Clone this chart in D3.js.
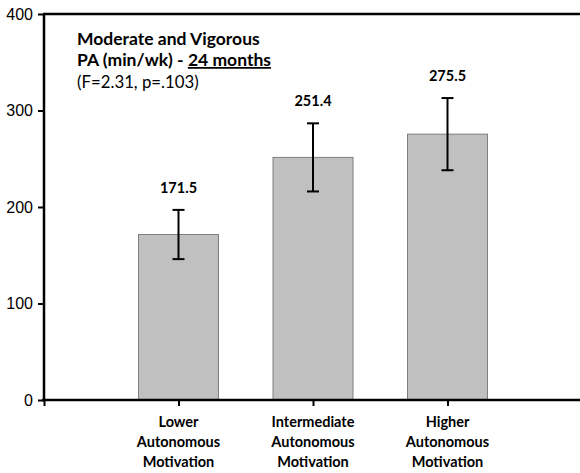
<!DOCTYPE html>
<html><head><meta charset="utf-8">
<script src="https://cdn.jsdelivr.net/npm/d3@7"></script>
<style>body{margin:0;background:#fff}svg{display:block}</style>
</head><body>
<svg id="c" width="580" height="473"></svg>
<script>
const categories = [["Lower","Autonomous","Motivation"],["Intermediate","Autonomous","Motivation"],["Higher","Autonomous","Motivation"]];
const values = [171.5, 251.4, 275.5];
const errors = [25.5, 35.3, 37.4];
const yTicks = [0, 100, 200, 300, 400];
const titleLines = ["Moderate and Vigorous", "PA (min/wk) - ", "24 months", "(F=2.31, p=.103)"];

const svg = d3.select("#c");
const x = d3.scaleLinear().domain([0, 4]).range([44, 582]);
const y = d3.scaleLinear().domain([0, 400]).range([400, 14]);
const barW = 80;
const font = "Lato, 'Open Sans', sans-serif";

// bars
svg.selectAll("rect.bar").data(values).enter().append("rect")
  .attr("x", (d,i) => x(i+1) - barW/2).attr("width", barW)
  .attr("y", d => y(d)).attr("height", d => y(0) - y(d))
  .attr("fill", "#c0c0c0").attr("stroke", "#7f7f7f").attr("stroke-width", 1);

// error bars
const eg = svg.selectAll("g.err").data(values).enter().append("g").attr("stroke","#000").attr("stroke-width",2);
eg.append("line").attr("x1",(d,i)=>x(i+1)).attr("x2",(d,i)=>x(i+1))
  .attr("y1",(d,i)=>y(d+errors[i])).attr("y2",(d,i)=>y(d-errors[i]));
eg.append("line").attr("x1",(d,i)=>x(i+1)-6).attr("x2",(d,i)=>x(i+1)+6)
  .attr("y1",(d,i)=>y(d+errors[i])).attr("y2",(d,i)=>y(d+errors[i]));
eg.append("line").attr("x1",(d,i)=>x(i+1)-6).attr("x2",(d,i)=>x(i+1)+6)
  .attr("y1",(d,i)=>y(d-errors[i])).attr("y2",(d,i)=>y(d-errors[i]));

// value labels
svg.selectAll("text.val").data(values).enter().append("text")
  .attr("x",(d,i)=>x(i+1)).attr("y",(d,i)=>y(d+errors[i]) - 17)
  .attr("text-anchor","middle").attr("font-family",font).attr("font-weight","bold")
  .attr("font-size",14.5).attr("fill","#000").text(d => d.toFixed(1));

// y axis
const ya = svg.append("g").attr("transform","translate(44,0)")
  .call(d3.axisLeft(y).tickValues(yTicks).tickSize(6).tickPadding(5).tickFormat(d3.format("d")));
ya.select(".domain").attr("stroke","#000").attr("stroke-width",2.5).attr("d","M0," + y(400) + "V" + (y(0)+1));
ya.selectAll(".tick line").attr("stroke","#000").attr("stroke-width",2);
ya.selectAll(".tick text").attr("font-family","Arial, 'Liberation Sans', sans-serif").attr("font-size",16).attr("fill","#000");

// top line
svg.append("line").attr("x1",43).attr("x2",580).attr("y1",y(400)).attr("y2",y(400))
  .attr("stroke","#000").attr("stroke-width",2.5);

// x axis
const xa = svg.append("g").attr("transform","translate(0," + y(0) + ")")
  .call(d3.axisBottom(x).tickValues([0,1,2,3]).tickSize(6).tickFormat(""));
xa.select(".domain").attr("stroke","#000").attr("stroke-width",2.5).attr("d","M42,0H580");
xa.selectAll(".tick line").attr("stroke","#000").attr("stroke-width",2);

// category labels
categories.forEach((lines,i) => {
  const t = svg.append("text").attr("text-anchor","middle").attr("font-family",font)
    .attr("font-weight","bold").attr("font-size",14.5).attr("fill","#000");
  lines.forEach((l,j) => t.append("tspan").attr("x", x(i+1)).attr("y", 427 + j*20).text(l));
});

// title
svg.append("text").attr("x",77).attr("y",45).attr("font-family",font).attr("font-weight","bold")
  .attr("font-size",17.5).text(titleLines[0]);
const t2 = svg.append("text").attr("x",77).attr("y",66).attr("font-family",font).attr("font-weight","bold").attr("font-size",17.5);
t2.append("tspan").text(titleLines[1]);
t2.append("tspan").attr("text-decoration","underline").text(titleLines[2]);
svg.append("text").attr("x",77).attr("y",88).attr("font-family",font).attr("font-size",16.8).text(titleLines[3]);
</script>
</body></html>
